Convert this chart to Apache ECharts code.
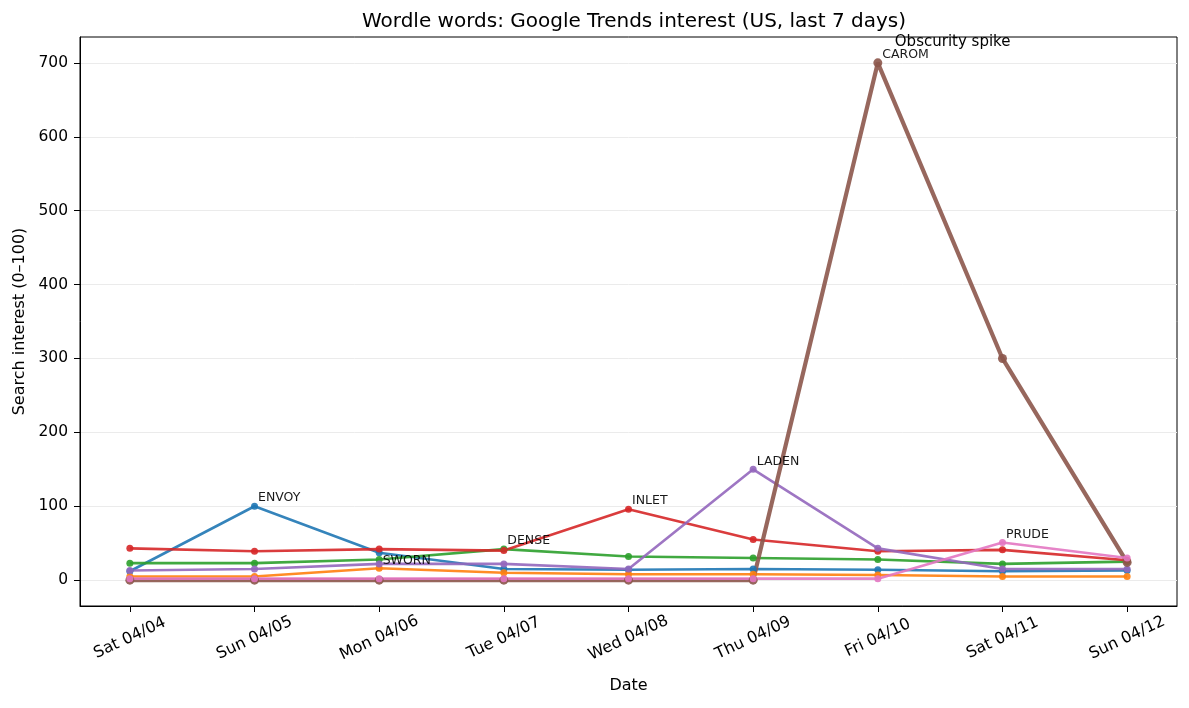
<!DOCTYPE html>
<html>
<head>
<meta charset="utf-8">
<script src="https://cdn.jsdelivr.net/npm/echarts@6/dist/echarts.min.js"></script>
<style>html,body{margin:0;padding:0;background:#fff}#c{width:1189px;height:708px}</style>
</head>
<body>
<div id="c"></div>
<script>
const categories = ['Sat 04/04','Sun 04/05','Mon 04/06','Tue 04/07','Wed 04/08','Thu 04/09','Fri 04/10','Sat 04/11','Sun 04/12'];
const yTicks = [0,100,200,300,400,500,600,700];

const envoy = [12, 100, 37, 15, 14, 15, 14, 12, 13];
const sworn = [5, 5, 16, 10, 8, 8, 7, 5, 5];
const dense = [23, 23, 28, 42, 32, 30, 28, 22, 25];
const inlet = [43, 39, 42, 40, 96, 55, 39, 41, 27];
const laden = [13, 15, 22, 22, 15, 150, 43, 15, 15];
const carom = [0, 0, 0, 0, 0, 0, 700, 300, 24];
const prude = [2, 2, 2, 2, 2, 2, 2, 51, 30];

const seriesDefs = [
  {name:'ENVOY', data:envoy, color:'#1f77b4', peak:1},
  {name:'SWORN', data:sworn, color:'#ff7f0e', peak:2},
  {name:'DENSE', data:dense, color:'#2ca02c', peak:3},
  {name:'INLET', data:inlet, color:'#d62728', peak:4},
  {name:'LADEN', data:laden, color:'#9467bd', peak:5},
  {name:'CAROM', data:carom, color:'#8c564b', peak:6, thick:true},
  {name:'PRUDE', data:prude, color:'#e377c2', peak:7}
];

const font = 'DejaVu Sans';
const series = seriesDefs.map(s => {
  const data = s.data.map((v, i) => {
    const item = {value: [i, v]};
    if (i === s.peak) {
      item.label = {
        show: true, formatter: s.name, position: 'right', distance: 0,
        offset: [0, -8], align: 'left', fontSize: 12.5, color: '#000', fontFamily: font
      };
    }
    return item;
  });
  const out = {
    name: s.name, type: 'line', data: data,
    symbol: 'circle', symbolSize: s.thick ? 9 : 7,
    lineStyle: {width: s.thick ? 4.2 : 2.6, color: s.color, opacity: 0.9},
    itemStyle: {color: s.color, opacity: 0.9},
    emphasis: {disabled: true},
    animation: false, z: 2
  };
  if (s.thick) {
    out.markPoint = {
      symbol: 'circle', symbolSize: 0, silent: true,
      data: [{coord: [s.peak, s.data[s.peak]], value: 'Obscurity spike'}],
      label: {show: true, formatter: 'Obscurity spike', position: 'right', distance: 0,
        offset: [17, -21], align: 'left', fontSize: 15, color: '#000', fontFamily: font}
    };
  }
  return out;
});

const chart = echarts.init(document.getElementById('c'), null, {renderer: 'canvas'});
chart.setOption({
  backgroundColor: '#fff',
  animation: false,
  title: {
    text: 'Wordle words: Google Trends interest (US, last 7 days)',
    left: 629, top: 7, textAlign: 'center',
    textStyle: {fontFamily: font, fontSize: 20, fontWeight: 'normal', color: '#000'}
  },
  grid: {left: 80, right: 12, top: 37, bottom: 102, outerBoundsMode: 'none', containLabel: false,
    show: true, borderColor: '#000', borderWidth: 1, backgroundColor: 'transparent'},
  xAxis: {
    type: 'value', min: -0.4, max: 8.4,
    name: 'Date', nameLocation: 'middle', nameGap: 72,
    nameTextStyle: {fontFamily: font, fontSize: 16, color: '#000'},
    axisLine: {show: true, onZero: false, lineStyle: {color: '#000', width: 1}},
    axisTick: {show: true, length: 6, lineStyle: {color: '#000'}, customValues: categories.map((c, i) => i)},
    axisLabel: {
      customValues: categories.map((c, i) => i),
      formatter: v => categories[Math.round(v)],
      rotate: 25, align: 'center', verticalAlign: 'middle', margin: 32,
      fontFamily: font, fontSize: 16, color: '#000'
    },
    splitLine: {show: false}
  },
  yAxis: {
    type: 'value', min: -35, max: 735,
    name: 'Search interest (0\u2013100)', nameLocation: 'middle', nameGap: 52, nameRotate: 90,
    nameTextStyle: {fontFamily: font, fontSize: 16, color: '#000'},
    axisLine: {show: true, onZero: false, lineStyle: {color: '#000', width: 1}},
    axisTick: {show: true, length: 6, lineStyle: {color: '#000'}, customValues: yTicks},
    axisLabel: {customValues: yTicks, margin: 12, fontFamily: font, fontSize: 15.5, color: '#000'},
    splitLine: {show: true, lineStyle: {color: '#ebebeb', width: 1}}
  },
  series: series
});
</script>
</body>
</html>
